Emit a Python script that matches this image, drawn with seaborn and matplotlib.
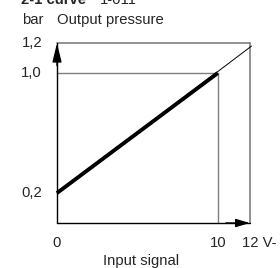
import matplotlib
matplotlib.use("Agg")
import matplotlib.pyplot as plt
import seaborn as sns

# characteristic curve: input signal (V) -> output pressure (bar)
signal = [0, 10]
pressure = [0.2, 1.0]
signal_ext = [0, 12.1]
pressure_ext = [0.2, 1.18]
x_max = 12
y_max = 1.2
y_ticks = [1.2, 1.0, 0.2]
y_labels = ["1,2", "1,0", "0,2"]
x_ticks = [0, 10]
x_labels = ["0", "10"]


def main():
    sns.set_style("white")
    plt.rcParams["font.family"] = ["Liberation Sans", "DejaVu Sans"]

    fig = plt.figure(figsize=(2.8, 2.68), dpi=100)
    ax = fig.add_axes([0, 0, 1, 1])
    ax.set_xlim(-3.545, 13.87)
    ax.set_ylim(-0.3, 1.487)
    ax.axis("off")

    gray = "#7f7f7f"
    # frame lines
    ax.plot([0, x_max], [y_max, y_max], color=gray, lw=1.2)
    ax.plot([x_max, x_max], [0, y_max], color=gray, lw=1.2)
    ax.plot([0, signal[1]], [pressure[1], pressure[1]], color=gray, lw=1.0)
    ax.plot([signal[1], signal[1]], [0, pressure[1]], color=gray, lw=1.0)

    # curve
    sns.lineplot(x=signal_ext, y=pressure_ext, ax=ax, color="black", lw=0.7)
    sns.lineplot(x=signal, y=pressure, ax=ax, color="black", lw=2.8,
                 solid_capstyle="butt")

    # axes with arrows
    ax.plot([0, 0], [0, y_max], color="black", lw=1.0)
    ax.plot([0, x_max], [0, 0], color="black", lw=1.0)
    ax.annotate("", xy=(0, y_max), xytext=(0, 1.05),
                arrowprops=dict(arrowstyle="-|>,head_length=1.15,head_width=0.28",
                                color="black", lw=1, shrinkA=0, shrinkB=0))
    ax.annotate("", xy=(x_max, 0), xytext=(10.5, 0),
                arrowprops=dict(arrowstyle="-|>,head_length=0.85,head_width=0.25",
                                color="black", lw=1, shrinkA=0, shrinkB=0))

    fs = 10.7
    for v, lab in zip(y_ticks, y_labels):
        ax.text(-0.93, v, lab, ha="right", va="center", fontsize=fs)
    for v, lab in zip(x_ticks, x_labels):
        ax.text(v, -0.133, lab, ha="center", va="center", fontsize=fs)
    ax.text(11.53, -0.133, "12 V-", ha="left", va="center", fontsize=fs)
    ax.text(5.22, -0.253, "Input signal", ha="center", va="center", fontsize=fs)
    ax.text(-2.18, 1.353, "bar", ha="left", va="center", fontsize=fs)
    ax.text(0, 1.353, "Output pressure", ha="left", va="center", fontsize=fs)
    # clipped heading at the very top
    ax.text(-2.24, 1.487, "2-1 curve", ha="left", va="center", fontsize=fs,
            fontweight="bold")
    ax.text(2.67, 1.487, "1-011", ha="left", va="center", fontsize=fs)

    fig.savefig("out.png", dpi=100)


if __name__ == "__main__":
    main()
